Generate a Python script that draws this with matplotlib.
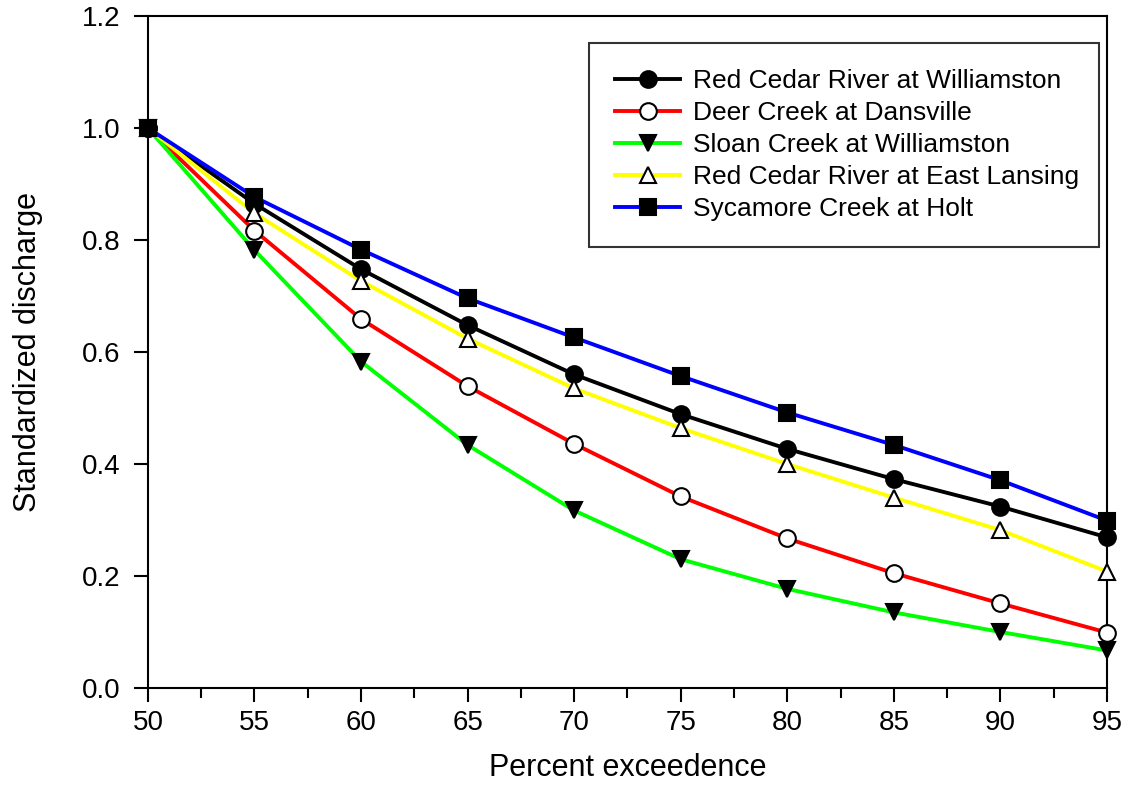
import matplotlib
matplotlib.use("Agg")
import matplotlib.pyplot as plt
from matplotlib.ticker import MultipleLocator

plt.rcParams['font.family'] = ['Liberation Sans', 'DejaVu Sans']

percent = [50, 55, 60, 65, 70, 75, 80, 85, 90, 95]

red_cedar_williamston = [1.0, 0.865, 0.748, 0.648, 0.560, 0.489, 0.427, 0.373, 0.324, 0.269]
deer_creek = [1.0, 0.817, 0.659, 0.539, 0.436, 0.342, 0.267, 0.205, 0.151, 0.099]
sloan_creek = [1.0, 0.782, 0.583, 0.434, 0.317, 0.230, 0.177, 0.135, 0.100, 0.067]
red_cedar_lansing = [1.0, 0.848, 0.727, 0.624, 0.535, 0.464, 0.400, 0.340, 0.282, 0.208]
sycamore_creek = [1.0, 0.877, 0.783, 0.696, 0.626, 0.557, 0.492, 0.434, 0.371, 0.299]

series = [
    ("Red Cedar River at Williamston", red_cedar_williamston, "#000000", "o", "black"),
    ("Deer Creek at Dansville", deer_creek, "#ff0000", "o", "white"),
    ("Sloan Creek at Williamston", sloan_creek, "#00ff00", "v", "black"),
    ("Red Cedar River at East Lansing", red_cedar_lansing, "#ffff00", "^", "white"),
    ("Sycamore Creek at Holt", sycamore_creek, "#0000ff", "s", "black"),
]

fig = plt.figure(figsize=(11.29, 8.07), dpi=100)
ax = fig.add_axes([0.131, 0.1475, 0.8495, 0.8325])

LW = 2.8


def msize(marker):
    return 11 if marker == 's' else 12


for name, vals, color, marker, face in series:
    ax.plot(percent, vals, color=color, lw=LW, zorder=2, clip_on=False)
for name, vals, color, marker, face in series:
    ax.plot(percent, vals, ls='none', marker=marker, ms=msize(marker),
            mfc=face, mec='black', mew=1.5, zorder=3, clip_on=False)

# legend handles: line + marker together
handles = []
for name, vals, color, marker, face in series:
    h, = ax.plot([], [], color=color, lw=LW, marker=marker, ms=msize(marker),
                 mfc=face, mec='black', mew=1.5)
    handles.append(h)
leg = ax.legend(handles, [s[0] for s in series], loc='upper left',
                bbox_to_anchor=(0.46, 0.0, 0.532, 0.960), mode='expand',
                borderaxespad=0, fontsize=19, handlelength=2.45,
                handletextpad=0.5, labelspacing=0.30,
                frameon=True, fancybox=False, borderpad=1.0)
leg.get_frame().set_edgecolor('black')
leg.get_frame().set_linewidth(1.5)

ax.set_xlim(50, 95)
ax.set_ylim(0, 1.2)
ax.xaxis.set_major_locator(MultipleLocator(5))
ax.xaxis.set_minor_locator(MultipleLocator(2.5))
ax.yaxis.set_major_locator(MultipleLocator(0.2))
ax.yaxis.set_major_formatter(plt.FormatStrFormatter('%.1f'))

for sp in ax.spines.values():
    sp.set_linewidth(1.5)
ax.tick_params(axis='x', which='major', direction='out', length=10, width=1.5, labelsize=20, pad=6)
ax.tick_params(axis='y', which='major', direction='out', length=10, width=1.5, labelsize=20, pad=10)
ax.tick_params(which='minor', direction='out', length=7, width=1.5)
ax.tick_params(top=False, right=False)

ax.set_xlabel("Percent exceedence", fontsize=22, labelpad=12)
ax.set_ylabel("Standardized discharge", fontsize=22, labelpad=28)

fig.savefig("out.png", dpi=100)
